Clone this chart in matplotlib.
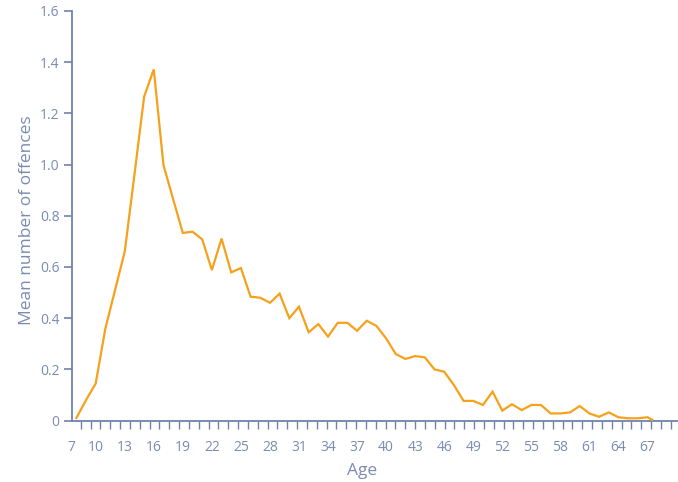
import numpy as np
import matplotlib
matplotlib.use("Agg")
import matplotlib.pyplot as plt
from matplotlib.ticker import FixedLocator

# ─── Datos ────────────────────────────────────────────────────────────────────
edades = [8, 9, 10, 11, 12, 13, 14, 15, 16, 17, 18, 19, 20, 21, 22, 23, 24,
          25, 26, 27, 28, 29, 30, 31, 32, 33, 34, 35, 36, 37, 38, 39, 40, 41,
          42, 43, 44, 45, 46, 47, 48, 49, 50, 51, 52, 53, 54, 55, 56, 57, 58,
          59, 60, 61, 62, 63, 64, 65, 66, 67, 67.5]
media_delitos = [0.01, 0.08, 0.145, 0.36, 0.51, 0.66, 0.96, 1.265, 1.372,
                 0.998, 0.865, 0.733, 0.738, 0.708, 0.588, 0.711, 0.579,
                 0.596, 0.484, 0.48, 0.46, 0.496, 0.40, 0.445, 0.345, 0.377,
                 0.328, 0.382, 0.382, 0.351, 0.390, 0.370, 0.321, 0.26,
                 0.241, 0.252, 0.247, 0.200, 0.191, 0.139, 0.077, 0.077,
                 0.061, 0.113, 0.039, 0.064, 0.041, 0.061, 0.061, 0.028,
                 0.028, 0.032, 0.057, 0.028, 0.015, 0.032, 0.013, 0.009,
                 0.009, 0.013, 0.003]
etiquetas_x = ["7", "10", "13", "16", "19", "22", "25", "28", "31", "34", "37",
               "40", "43", "46", "49", "52", "55", "58", "61", "64", "67"]
ticks_y = [0, 0.2, 0.4, 0.6, 0.8, 1.0, 1.2, 1.4, 1.6]

# ─── Estilo ───────────────────────────────────────────────────────────────────
NARANJA = "#F5A11C"
EJE = "#6F82AC"
TEXTO = "#7A8BB2"
plt.rcParams["font.family"] = ["Open Sans", "DejaVu Sans"]

fig = plt.figure(figsize=(6.78, 4.82), dpi=100)
ax = fig.add_axes([71.5 / 678, 61.4 / 482, 605.5 / 678, 409.6 / 482])

ax.plot(edades, media_delitos, color=NARANJA, linewidth=1.6,
        solid_joinstyle="miter", clip_on=False, zorder=3)

ax.set_xlim(7.5, 70.05)
ax.set_ylim(0, 1.6)

# Eje Y
ax.set_yticks(ticks_y)
ax.set_yticklabels(["0" if v == 0 else f"{v:.1f}" for v in ticks_y])
ax.tick_params(axis="y", which="major", direction="out", length=5.5,
               width=1.2, color=EJE, labelcolor=TEXTO, labelsize=10, pad=3)

# Eje X: marcas cada año (menores) y etiquetas cada tres años (mayores)
pos_etiquetas = [7.5] + [int(e) for e in etiquetas_x[1:]]
ax.set_xticks(pos_etiquetas)
ax.set_xticklabels(etiquetas_x)
ax.xaxis.set_minor_locator(FixedLocator(np.linspace(8.46, 69.4, 61)))
ax.tick_params(axis="x", which="major", length=0, labelcolor=TEXTO,
               labelsize=10, pad=14)
ax.tick_params(axis="x", which="minor", direction="out", length=5.5,
               width=1.0, color=EJE)

for lado in ["top", "right"]:
    ax.spines[lado].set_visible(False)
for lado in ["left", "bottom"]:
    ax.spines[lado].set_color(EJE)
    ax.spines[lado].set_linewidth(1.3)

ax.set_ylabel("Mean number of offences", color=TEXTO, fontsize=12.5)
ax.yaxis.set_label_coords(-0.06, 0.49)
ax.set_xlabel("Age", color=TEXTO, fontsize=12.5)
ax.xaxis.set_label_coords(0.48, -0.104)

fig.savefig("out.png", dpi=100, facecolor="white")
